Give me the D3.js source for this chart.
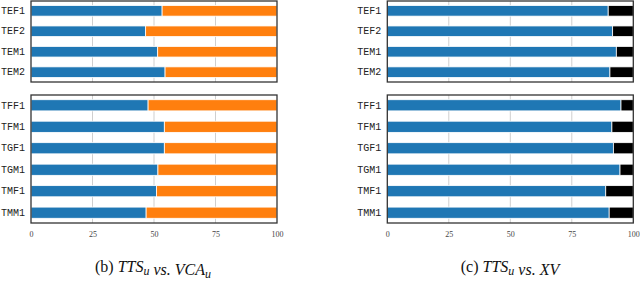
<!DOCTYPE html>
<html>
<head>
<meta charset="utf-8">
<script src="https://cdn.jsdelivr.net/npm/d3@7"></script>
<style>
  body { margin: 0; background: #fff; }
  svg { display: block; }
</style>
</head>
<body>
<svg id="chart"></svg>
<script>
const catsTop = ['TEF1', 'TEF2', 'TEM1', 'TEM2'];
const catsBot = ['TFF1', 'TFM1', 'TGF1', 'TGM1', 'TMF1', 'TMM1'];
// percentage of the blue (TTS_u) part, rest goes to the other system
const vcaTop = [53.3, 46.6, 51.5, 54.5];
const vcaBot = [47.6, 54.2, 54.2, 51.6, 51.0, 46.8];
const xvTop = [89.8, 91.6, 93.1, 90.5];
const xvBot = [95.0, 91.3, 91.9, 94.6, 88.8, 90.2];
const xTicks = [0, 25, 50, 75, 100];

const width = 640;
const height = 293;
const blue = '#1f77b4';

let svg = d3.select('#chart')
            .attr('width', width)
            .attr('height', height);

function panel(x0, x1, y0, y1, cats, vals, other, showAxis) {
    let g = svg.append('g');
    let xScale = d3.scaleLinear().domain([0, 100]).range([x0, x1]);
    let yScale = d3.scaleBand()
                .domain(cats)
                .range([y0, y1])
                .paddingInner(0.48)
                .paddingOuter(0.22);

    // grid
    g.selectAll('line.grid')
        .data(xTicks.slice(1, -1))
        .enter().append('line')
        .attr('class', 'grid')
        .attr('x1', d => xScale(d)).attr('x2', d => xScale(d))
        .attr('y1', y0).attr('y2', y1)
        .attr('stroke', '#cfcfcf')
        .attr('stroke-width', 1);

    let rows = cats.map((c, i) => ({cat: c, v: vals[i]}));

    g.selectAll('rect.a')
        .data(rows)
        .enter().append('rect')
        .attr('x', xScale(0))
        .attr('y', d => yScale(d.cat))
        .attr('width', d => xScale(d.v) - xScale(0))
        .attr('height', yScale.bandwidth())
        .attr('fill', blue)
        .attr('stroke', '#fff')
        .attr('stroke-width', 0.8);

    g.selectAll('rect.b')
        .data(rows)
        .enter().append('rect')
        .attr('x', d => xScale(d.v))
        .attr('y', d => yScale(d.cat))
        .attr('width', d => xScale(100) - xScale(d.v))
        .attr('height', yScale.bandwidth())
        .attr('fill', other)
        .attr('stroke', '#fff')
        .attr('stroke-width', 0.8);

    // frame
    g.append('rect')
        .attr('x', x0).attr('y', y0)
        .attr('width', x1 - x0).attr('height', y1 - y0)
        .attr('fill', 'none')
        .attr('stroke', '#333')
        .attr('stroke-width', 1.3);

    let yAxis = d3.axisLeft(yScale).tickSize(0).tickPadding(6);
    let ya = g.append('g')
        .attr('transform', `translate(${x0},0)`)
        .call(yAxis);
    ya.select('.domain').remove();
    ya.selectAll('text')
        .attr('font-family', '"Liberation Mono", "Courier New", monospace')
        .attr('font-size', 10)
        .attr('fill', '#222');

    if (showAxis) {
        let xAxis = d3.axisBottom(xScale).tickValues(xTicks).tickSize(0).tickPadding(8);
        let xa = g.append('g')
            .attr('transform', `translate(0,${y1})`)
            .call(xAxis);
        xa.select('.domain').remove();
        xa.selectAll('text')
            .attr('font-family', '"Liberation Serif", serif')
            .attr('font-size', 8)
            .attr('fill', '#444');
    }
}

panel(31, 277, 1, 82, catsTop, vcaTop, '#ff7f0e', false);
panel(31, 277, 95, 223, catsBot, vcaBot, '#ff7f0e', true);
panel(387.3, 633.3, 1, 82, catsTop, xvTop, '#000', false);
panel(387.3, 633.3, 95, 223, catsBot, xvBot, '#000', true);

function caption(cx, label, parts) {
    let t = svg.append('text')
        .attr('x', cx).attr('y', 272)
        .attr('text-anchor', 'middle')
        .attr('font-family', '"Liberation Serif", serif')
        .attr('font-size', 16)
        .attr('fill', '#111');
    t.append('tspan').text(label + ' ');
    parts.forEach(p => {
        if (p.sub) {
            t.append('tspan').attr('font-style', 'italic').attr('font-size', 12)
                .attr('dy', 3).text(p.text);
            t.append('tspan').attr('dy', -3).text('');
        } else {
            t.append('tspan').attr('font-style', 'italic').text(p.text);
        }
    });
}

caption(153, '(b)', [
    {text: 'TTS'}, {text: 'u', sub: true}, {text: ' vs. VCA'}, {text: 'u', sub: true}
]);
caption(510, '(c)', [
    {text: 'TTS'}, {text: 'u', sub: true}, {text: ' vs. XV'}
]);
</script>
</body>
</html>
